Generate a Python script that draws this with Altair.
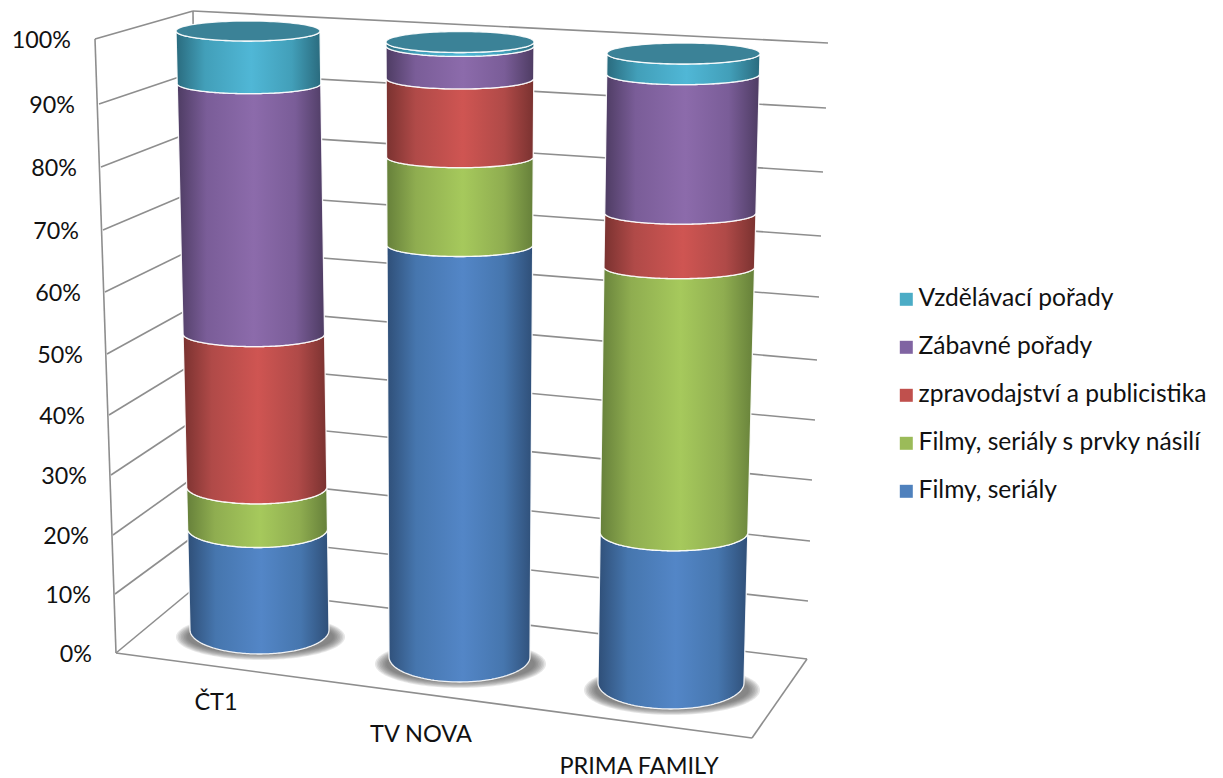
import numpy as np
import pandas as pd
import altair as alt

# ---------- chart values (percent share per channel) ----------
channels = ["ČT1", "TV NOVA", "PRIMA FAMILY"]
series = ["Filmy, seriály", "Filmy, seriály s prvky násilí", "zpravodajství a publicistika",
          "Zábavné pořady", "Vzdělávací pořady"]
filmy = [17.6, 68.1, 24.8]
nasili = [7.2, 14.0, 42.4]
zprav = [25.9, 12.3, 8.4]
zabava = [41.0, 5.0, 21.3]
vzdel = [8.3, 0.6, 3.1]
values = [filmy, nasili, zprav, zabava, vzdel]

ticks = [0, 10, 20, 30, 40, 50, 60, 70, 80, 90, 100]
tick_labels = [f"{t}%" for t in ticks]

legend_colors = ["#4bacc6", "#8064a2", "#c0504d", "#9bbb59", "#4f81bd"]
shades = [  # dark, mid, bright
    ("#2f4f78", "#4676ae", "#5386c7"),
    ("#66803a", "#8fad50", "#a6c95c"),
    ("#7a3230", "#b04a48", "#cf5552"),
    ("#4e3c63", "#7a5d98", "#8c6bab"),
    ("#2a6b7e", "#429fb9", "#50b7d6"),
]
cap_color = "#3b8297"

# ---------- perspective layout of the 3D box (view coordinates) ----------
front_x = [116, 115, 113, 111, 109, 107, 105, 103, 101, 99, 95]
front_y = [653, 594, 535, 475, 415, 354, 292, 230, 167, 104, 39]
back_x = [198, 198, 197, 197, 196, 196, 195, 195, 194, 194, 193]
back_y = [585, 533, 475, 418, 362, 305, 248, 191, 131, 72, 11]
right_x = [807, 808, 810, 812, 815, 817, 819, 821, 823, 826, 828]
right_y = [659, 601, 541, 480, 420, 360, 297, 236, 172, 108, 43]
floor_corner = (752, 738)
# per column: base centre x, half width, side y, ellipse b; same for the top
columns = [
    dict(cx0=259.5, w0=69.5, y0=630, b0=24, cx1=248, w1=72, y1=31, b1=10),
    dict(cx0=459.5, w0=70.5, y0=657, b0=25, cx1=460, w1=74, y1=42, b1=10.5),
    dict(cx0=671, w0=73, y0=683, b0=26, cx1=683.5, w1=76.5, y1=53.5, b1=10.5),
]
cat_pos = [(216, 703), (421, 735), (639, 767)]
FONT = "Lato"
W, H = 1207, 762
xs = alt.Scale(domain=[8, 8 + W], nice=False, zero=False)
ys = alt.Scale(domain=[8 + H, 8], nice=False, zero=False)
X = lambda f="x": alt.X(f"{f}:Q", scale=xs, axis=None)
Y = lambda f="y": alt.Y(f"{f}:Q", scale=ys, axis=None)


def frac(v):
    """height fraction of the box for a percent value (perspective)"""
    return (653 - np.interp(v, ticks, front_y)) / (653 - 39)


def level(col, v):
    f = frac(v)
    c = columns[col]
    return dict(
        cx=c["cx0"] + (c["cx1"] - c["cx0"]) * f,
        w=c["w0"] + (c["w1"] - c["w0"]) * f,
        y=c["y0"] + (c["y1"] - c["y0"]) * f,
        b=c["b1"] + (c["b0"] - c["b1"]) * (1 - f) ** 2.5,
    )


U = np.cos(np.linspace(np.pi, 0, 61))


def arc(lv, sign=1):
    return lv["cx"] + U * lv["w"], lv["y"] + sign * lv["b"] * np.sqrt(1 - U ** 2)


def band(lo, hi):
    """front face between two levels as upper/lower envelope"""
    tx, ty = arc(hi)
    bx, by = arc(lo)
    ux, uy = list(tx), list(ty)
    dx, dy = list(bx), list(by)
    if bx[0] < tx[0]:
        ux.insert(0, bx[0]); uy.insert(0, by[0])
    elif tx[0] < bx[0]:
        dx.insert(0, tx[0]); dy.insert(0, ty[0])
    if bx[-1] > tx[-1]:
        ux.append(bx[-1]); uy.append(by[-1])
    elif tx[-1] > bx[-1]:
        dx.append(tx[-1]); dy.append(ty[-1])
    grid = np.unique(np.concatenate([ux, dx]))
    return pd.DataFrame(dict(x=grid, y=np.interp(grid, ux, uy), y2=np.interp(grid, dx, dy)))


def grad(d, m, b):
    return alt.LinearGradient(
        gradient="linear", x1=0, x2=1, y1=0, y2=0,
        stops=[alt.GradientStop(offset=0, color=d), alt.GradientStop(offset=0.2, color=m),
               alt.GradientStop(offset=0.52, color=b), alt.GradientStop(offset=0.8, color=m),
               alt.GradientStop(offset=1, color=d)])


layers = []

# walls and floor
segs = []
for i in range(len(ticks)):
    segs.append((front_x[i], front_y[i], back_x[i], back_y[i]))
    segs.append((back_x[i], back_y[i], right_x[i], right_y[i]))
segs += [(front_x[0], front_y[0], front_x[-1], front_y[-1]),
         (back_x[0], back_y[0], back_x[-1], back_y[-1]),
         (front_x[0], front_y[0], *floor_corner),
         (*floor_corner, right_x[0], right_y[0])]
wall = pd.DataFrame(segs, columns=["x", "y", "x2", "y2"])
layers.append(alt.Chart(wall).mark_rule(color="#8e8e8e", strokeWidth=1.6).encode(
    x=X(), y=Y(), x2="x2:Q", y2="y2:Q"))

# soft base shadows: concentric translucent ellipses
for col in range(3):
    lv = level(col, 0)
    sx = np.cos(np.linspace(np.pi, 0, 81))
    cx, cy = lv["cx"] + 1, lv["y"] + 7
    for step in range(8):
        a = lv["w"] + 15 - step * 1.6
        b = lv["b"] - 1 - step * 0.9
        sh = pd.DataFrame(dict(x=cx + a * sx, y=cy - b * np.sqrt(1 - sx ** 2), y2=cy + b * np.sqrt(1 - sx ** 2)))
        layers.append(alt.Chart(sh).mark_area(fill="#555555", opacity=0.14, strokeWidth=0)
                      .encode(x=X(), y=Y(), y2="y2:Q"))

# cylinders
for col in range(3):
    bottom = 0.0
    for s in range(len(series)):
        top = bottom + values[s][col]
        df = band(level(col, bottom), level(col, top))
        layers.append(alt.Chart(df).mark_area(
            fill=grad(*shades[s]), stroke="white", strokeWidth=1.3, strokeOpacity=0.9
        ).encode(x=X(), y=Y(), y2="y2:Q"))
        bottom = top
    lv = level(col, bottom)
    ax, ay = arc(lv, 1)
    cap = pd.DataFrame(dict(x=ax, y=2 * lv["y"] - ay, y2=ay))
    layers.append(alt.Chart(cap).mark_area(fill=cap_color, stroke="white", strokeWidth=1.3, strokeOpacity=0.9)
                  .encode(x=X(), y=Y(), y2="y2:Q"))

# tick labels
tk = pd.DataFrame(dict(x=[fx - 24 for fx in front_x], y=[fy + 2 for fy in front_y], t=tick_labels))
layers.append(alt.Chart(tk).mark_text(font=FONT, fontSize=23.3, align="right", baseline="middle", color="#111111")
              .encode(x=X(), y=Y(), text="t:N"))

# category labels
ct = pd.DataFrame(dict(x=[p[0] for p in cat_pos], y=[p[1] for p in cat_pos], t=channels))
layers.append(alt.Chart(ct).mark_text(font=FONT, fontSize=23.5, align="center", baseline="middle", color="#111111")
              .encode(x=X(), y=Y(), text="t:N"))

# legend
legend_order = series[::-1]
lg = pd.DataFrame(dict(x=[260] * 5, y=[300] * 5, s=legend_order))
layers.append(alt.Chart(lg).mark_square(size=0).encode(
    x=X(), y=Y(),
    color=alt.Color("s:N", scale=alt.Scale(domain=legend_order, range=legend_colors),
                    legend=alt.Legend(orient="none", legendX=886, legendY=279, title=None,
                                      symbolType="square", symbolSize=169, symbolStrokeWidth=0,
                                      symbolOpacity=1,
                                      labelFont=FONT, labelFontSize=24.6, labelColor="#111111",
                                      rowPadding=23, labelOffset=0, labelLimit=400))))

chart = alt.layer(*layers).properties(width=W, height=H, padding=0).configure_view(stroke=None)
chart.save("out.html", embed_options={"renderer": "svg", "actions": False})
